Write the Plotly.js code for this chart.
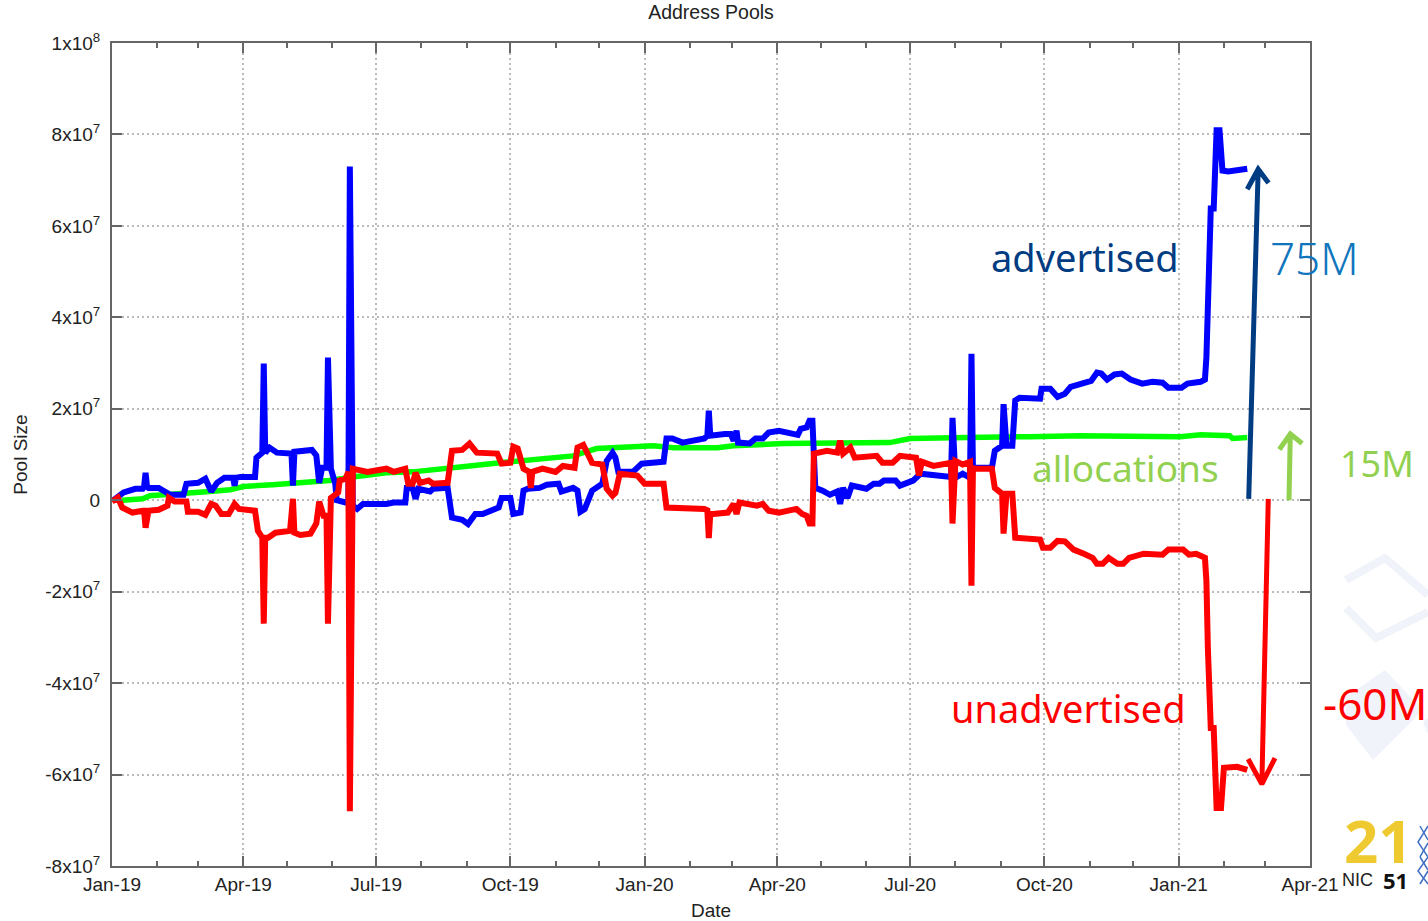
<!DOCTYPE html>
<html><head><meta charset="utf-8">
<script src="https://cdn.plot.ly/plotly-3.0.1.min.js"></script>
<style>html,body{margin:0;padding:0;background:#fff}#chart{width:1428px;height:921px}</style>
</head><body><div id="chart"></div>
<script>
// Days since 2019-01-01, values in millions of addresses
const startDate = '2019-01-01';
const advertisedDays = [1,4,8,16,21,22,23,24,25,32,38,40,49,51,59,64,68,72,77,83,84,85,88,98,99,103,104,105,108,113,123,124,125,137,140,142,144,147,148,149,150,153,154,160,162,163,164,165,168,172,188,193,201,202,206,208,210,218,220,230,233,240,244,249,254,265,267,273,275,280,282,285,293,298,306,308,316,319,321,324,329,336,339,343,345,347,357,363,378,380,384,391,406,408,409,410,420,424,426,428,429,437,441,446,450,457,470,472,476,478,480,481,482,487,492,497,499,501,504,507,513,517,522,526,529,537,540,549,554,563,573,575,576,577,578,583,587,588,589,590,592,603,605,610,611,613,617,619,622,636,637,643,648,653,657,666,671,675,678,682,687,692,698,706,713,720,724,733,737,746,749,750,751,752,753,755,756,757,759,761,765,770,778];
const advertisedValues = [0,0.6,1.7,2.5,2.5,3,6,3,2.7,2.7,1.7,1.2,1.2,3.6,3.8,4.7,1.9,3.8,4.9,4.9,3.2,4.9,5.1,5.1,9.3,10.4,29.9,10.4,11.5,10.4,10.2,3.2,10.6,11,9.8,3.8,7.1,7.1,31.2,7.1,6.9,3.6,0,-0.5,-0.5,73,-0.5,-1.2,-1.9,-0.8,-0.8,-0.5,-0.5,2.7,2.7,0.3,2.5,1.9,2.5,2.7,-3.8,-4.3,-5.2,-3,-3,-1.6,0.5,0.5,-3,-2.7,2.1,2.5,2.7,3.4,3.6,1.9,2.7,2.1,-2.5,-1.9,2.1,3.6,8.6,10.4,9.3,6.2,6.2,8,8.4,13.5,13.5,12.6,13.5,14.1,19.6,14.1,14.5,14.5,13,15.2,12.6,12.4,13.5,13.5,14.8,15.2,14.3,15.6,15.9,17.4,17.4,10,2.7,2.1,1.2,1.9,-0.8,2.7,0.5,3.2,2.7,2.5,3.6,3.6,4.3,4.3,3.2,4.3,5.8,5.6,5.1,5.1,18,5,4.9,5.8,4.9,4.9,32,7,7.1,7.1,10.8,11.9,21,11.9,11.9,21.8,22.4,22.2,24.4,24.4,22.6,23.3,24.8,25.5,26.1,27.9,27.7,26.4,27.5,27.7,26.4,25.5,25.9,25.7,24.6,24.6,25.5,25.9,26.4,31.2,46.5,61.8,63.8,63.8,73.8,80.9,80.9,72.1,71.9,72.1,72.5];

const unadvertisedDays = [0,4,7,14,21,22,23,24,25,32,38,39,43,51,52,59,64,68,71,75,80,84,87,98,100,103,104,105,107,112,122,124,125,129,136,140,142,145,147,148,149,150,155,156,160,162,163,164,165,175,188,193,201,203,206,208,211,217,220,230,233,240,245,250,264,267,273,275,278,282,286,287,288,295,304,309,317,319,323,329,336,339,343,345,348,360,365,378,380,406,408,409,410,412,422,426,428,430,437,442,446,450,457,469,473,476,478,480,481,490,497,499,501,506,509,524,528,535,540,551,553,555,563,573,575,576,577,578,583,587,588,589,590,592,603,605,610,611,613,617,619,636,638,643,648,653,659,666,672,675,679,683,689,693,697,707,720,724,734,738,743,749,750,751,752,753,755,756,757,760,762,771,778];
const unadvertisedValues = [-0.3,0.6,-1.6,-2.7,-2.3,-2.3,-6,-2.3,-2.3,-2.1,-1.2,0.5,-0.3,-0.3,-2.5,-2.5,-3.2,-0.8,-1.2,-3,-3,-0.8,-1.9,-2.3,-6.7,-8.2,-27,-8.2,-8.2,-7.1,-6.7,0.3,-7.1,-7.6,-7.3,-5.1,-0.3,-3.4,-3.4,-27,-3,0.5,1.7,4.3,4.7,6.2,-68,6.2,6.9,6.2,6.9,6.2,6.9,3.6,3.6,6,3.8,4.3,3.6,3.8,10.8,11,12.4,10.4,10.2,8,8.2,11.7,11.3,6.9,6.2,2.7,6.2,6.9,6.2,7.5,7.1,11.5,12.1,8.2,7.8,2.5,1,1.6,5.8,5.4,3.6,3.6,-1.6,-1.9,-2.2,-8.3,-3,-3,-2.7,-0.8,-3,-0.5,-0.8,-1.2,-0.8,-2.3,-2.7,-1.9,-3,-3.4,-5.1,-5.1,10.2,10.8,10.4,13,10.2,11.5,9.3,9.7,8.2,8.2,9.7,9.3,5.4,8.4,7.5,8.2,8.2,-5.1,8.5,8.6,7.8,8.4,8.4,-18.7,7,6.9,6.9,2.7,1.4,-7.3,1.4,1.4,-8.2,-8.6,-10.4,-10.4,-8.9,-9,-10.8,-11.7,-12.6,-13.9,-13.9,-12.6,-13.9,-13.9,-12.6,-11.7,-11.9,-10.8,-10.8,-11.9,-11.7,-12.6,-17.6,-32.3,-48.2,-49.8,-49.8,-59.9,-67.3,-67.3,-58.5,-58.3,-59];

const allocationDays = [7,21,26,38,53,67,81,90,110,122,149,165,188,206,232,245,266,293,316,332,371,385,415,426,460,533,547,586,620,629,663,732,746,766,768,778];
const allocationValues = [0,0.3,1,1.2,1.4,1.9,2.3,3,3.4,3.6,4.3,5.1,6,6.2,6.9,7.5,8.2,9.1,9.7,11.3,11.9,11.5,11.5,11.9,12.4,12.6,13.5,13.7,13.7,13.9,14.1,13.9,14.3,14.1,13.5,13.7];

// Hand-drawn arrows on the original slide: [tail, tip, head end, tip, head end]
const advertisedArrowDays = [779,785.5,778,785.5,792.6];
const advertisedArrowValues = [0.3,72.4,68,72.4,69.4];
const unadvertisedArrowDays = [792.4,788,778.6,788,797];
const unadvertisedArrowValues = [0.3,-62.1,-56.6,-62.1,-56.4];
const allocationArrowDays = [806.6,807.5,800,807.5,815.6];
const allocationArrowValues = [0,14.5,11.1,14.5,12.4];

const yTickValues = [1e8,8e7,6e7,4e7,2e7,0,-2e7,-4e7,-6e7,-8e7];
const yTickLabels = ['1x10<sup>8</sup>','8x10<sup>7</sup>','6x10<sup>7</sup>','4x10<sup>7</sup>','2x10<sup>7</sup>','0','-2x10<sup>7</sup>','-4x10<sup>7</sup>','-6x10<sup>7</sup>','-8x10<sup>7</sup>'];

const toDate = d => new Date(Date.UTC(2019,0,1) + d*86400000).toISOString().slice(0,19).replace('T',' ');
const dates = a => a.map(toDate);
const full = a => a.map(v => v*1e6);
const series = (days,vals,color,width,name) => ({type:'scatter',mode:'lines',x:dates(days),y:full(vals),name,
  line:{color,width,shape:'linear'},hoverinfo:'skip',cliponaxis:true});

const W=1428,H=921,L=112,R=1310,T=43,B=866;
const px = x => (x-L)/(R-L), py = y => (B-y)/(B-T);
const poly = (pts,close) => pts.map((p,i)=>(i?'L':'M')+px(p[0]).toFixed(5)+','+py(p[1]).toFixed(5)).join(' ')+(close?' Z':'');
const mark = (pts,opts) => Object.assign({type:'path',xref:'paper',yref:'paper',path:poly(pts,opts.close),layer:'below'},opts.s);

const hand = '"Noto Sans", sans-serif';
const note = (text,x,y,size,color,weight) => ({xref:'paper',yref:'paper',x:px(x),y:py(y),text,showarrow:false,
  xanchor:'center',yanchor:'middle',font:{family:hand,size,color,weight:weight||400}});

const traces = [
  series(allocationDays,allocationValues,'#00ff00',5.5,'allocations'),
  series(advertisedDays,advertisedValues,'#0000ff',6,'advertised'),
  series(unadvertisedDays,unadvertisedValues,'#ff0000',6,'unadvertised'),
  series(advertisedArrowDays,advertisedArrowValues,'#003c82',5,'advertised arrow'),
  series(unadvertisedArrowDays,unadvertisedArrowValues,'#ff0000',5,'unadvertised arrow'),
  series(allocationArrowDays,allocationArrowValues,'#92d050',5,'allocations arrow')
];

const pale = '#f0f3f9';
const layout = {
  width:W,height:H,paper_bgcolor:'#fff',plot_bgcolor:'rgba(0,0,0,0)',showlegend:false,
  margin:{l:L,r:W-R,t:T,b:H-B,pad:0},
  font:{family:'"Liberation Sans",Arial,sans-serif',size:19,color:'#222'},
  title:{text:'Address Pools',x:px(711),xref:'paper',xanchor:'center',y:1-12/H,yref:'container',yanchor:'middle',font:{size:19.5,color:'#222'}},
  xaxis:{type:'date',range:[startDate,'2021-04-01'],dtick:'M3',tick0:startDate,tickformat:'%b-%y',
    ticks:'inside',ticklen:10,tickwidth:2,tickcolor:'#666',showline:true,linecolor:'#666',linewidth:2,mirror:'ticks',
    showgrid:true,gridcolor:'#bbb',griddash:'2px,3px',gridwidth:1.5,zeroline:false,
    minor:{dtick:'M1',tick0:startDate,ticks:'inside',ticklen:5,tickwidth:2,tickcolor:'#666',showgrid:false},
    title:{text:'Date',standoff:17,font:{size:19,color:'#222'}},automargin:false},
  yaxis:{range:[-8e7,1e8],tickmode:'array',tickvals:yTickValues,ticktext:yTickLabels,ticklabelstandoff:6,
    ticks:'inside',ticklen:10,tickwidth:2,tickcolor:'#666',showline:true,linecolor:'#666',linewidth:2,mirror:'ticks',
    showgrid:true,gridcolor:'#bbb',griddash:'2px,3px',gridwidth:1.5,zeroline:false,
    title:{text:'Pool Size',standoff:13,font:{size:19,color:'#222'}},automargin:false},
  shapes:[
    mark([[1346,580],[1385,558],[1428,595]],{s:{line:{color:pale,width:8}}}),
    mark([[1346,608],[1376,638],[1428,612]],{s:{line:{color:pale,width:8}}}),
    mark([[1346,697],[1385,670],[1423,710],[1373,760],[1346,725]],{close:true,s:{fillcolor:pale,line:{width:0}}}),
    mark([[1423,722],[1428,718],[1428,734]],{close:true,s:{fillcolor:pale,line:{width:0}}}),
    mark([[1428,826],[1418,842],[1428,857],[1418,871],[1428,884]],{s:{line:{color:'#3f6fc4',width:1.5}}}),
    mark([[1420,826],[1428,840]],{s:{line:{color:'#3f6fc4',width:1.5}}}),
    mark([[1420,857],[1428,843]],{s:{line:{color:'#3f6fc4',width:1.5}}}),
    mark([[1420,857],[1428,870]],{s:{line:{color:'#3f6fc4',width:1.5}}}),
    mark([[1420,884],[1428,871]],{s:{line:{color:'#3f6fc4',width:1.5}}})
  ],
  annotations:[
    note('advertised',1085,257,38,'#003c82'),
    note('75M',1314,258,44,'#0f75bd',300),
    note('allocations',1125,467,37,'#92d050'),
    note('15M',1377,463,36,'#92d050'),
    note('unadvertised',1068,708,38,'#ff0000'),
    note('-60M',1375,703,44,'#ff0000'),
    {xref:'paper',yref:'paper',x:px(1378),y:py(840),text:'21',showarrow:false,xanchor:'center',yanchor:'middle',
      font:{family:'"Noto Sans",sans-serif',size:60,color:'#eec92f',weight:700}},
    {xref:'paper',yref:'paper',x:px(1375),y:py(880),text:'NIC',showarrow:false,xanchor:'right',yanchor:'middle',
      font:{family:'"Liberation Sans",sans-serif',size:18,color:'#222'}},
    {xref:'paper',yref:'paper',x:px(1381),y:py(880),text:'51',showarrow:false,xanchor:'left',yanchor:'middle',
      font:{family:'"Noto Sans",sans-serif',size:22,color:'#111',weight:700}}
  ]
};
Plotly.newPlot('chart',traces,layout,{displayModeBar:false,responsive:false});
</script></body></html>
